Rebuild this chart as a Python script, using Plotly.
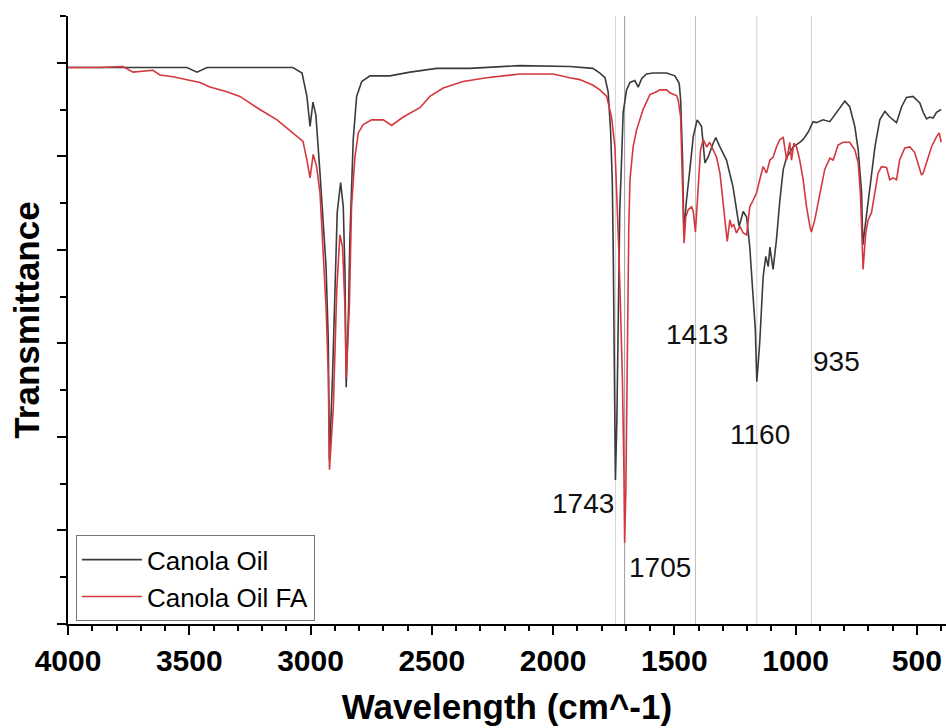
import plotly.graph_objects as go

# ---- Data ----
wn_oil = [4000, 3786, 3510, 3468, 3427, 3073, 3035, 3015, 3002, 2990, 2978, 2961, 2948, 2936, 2927,
          2922, 2909, 2899, 2890, 2876, 2865, 2858, 2853, 2843, 2838, 2824, 2810, 2789, 2755, 2673,
          2590, 2480, 2343, 2137, 1931, 1836, 1807, 1786, 1773, 1763, 1756, 1752, 1747, 1743, 1737,
          1733, 1729, 1725, 1718, 1711, 1697, 1683, 1663, 1649, 1635, 1615, 1587, 1532, 1498, 1480,
          1474, 1466, 1461, 1450, 1436, 1422, 1406, 1388, 1374, 1361, 1340, 1329, 1312, 1285, 1258,
          1244, 1233, 1216, 1202, 1189, 1175, 1166, 1160, 1148, 1134, 1123, 1113, 1106, 1093, 1079,
          1065, 1051, 1037, 1010, 983, 969, 948, 928, 914, 887, 859, 831, 797, 777, 756,
          742, 728, 723, 708, 694, 673, 653, 632, 612, 584, 563, 543, 516, 488, 474,
          460, 447, 433, 419, 400]
t_oil = [59.5, 59.5, 59.5, 59.0, 59.5, 59.5, 58.9, 56.4, 53.2, 55.8, 54.4, 48.2, 42.9, 38.2, 30.4,
         17.5, 26.8, 37.5, 44.0, 47.2, 44.6, 37.5, 25.3, 33.9, 41.1, 51.8, 56.4, 58.0, 58.6, 58.6,
         59.0, 59.4, 59.4, 59.7, 59.6, 59.4, 58.9, 58.4, 56.9, 52.8, 47.5, 40.0, 28.2, 15.4, 21.8,
         30.4, 37.9, 44.3, 49.3, 54.7, 57.1, 57.9, 58.1, 57.4, 58.3, 58.8, 58.9, 58.9, 58.6, 57.8,
         56.0, 49.6, 41.9, 45.3, 48.6, 52.1, 53.9, 53.2, 49.3, 49.9, 51.4, 52.0, 51.0, 49.6, 46.7,
         44.6, 42.5, 44.1, 43.5, 40.3, 35.4, 31.4, 25.9, 30.1, 37.1, 39.3, 38.2, 40.3, 37.9, 41.1,
         45.3, 48.6, 49.9, 51.0, 51.5, 51.8, 52.6, 53.7, 53.6, 53.9, 53.7, 54.7, 55.9, 55.3, 53.2,
         50.7, 46.1, 40.5, 43.5, 46.7, 51.0, 53.9, 54.8, 54.2, 53.6, 55.3, 56.3, 56.4, 55.7, 54.7,
         54.0, 54.2, 54.1, 54.7, 55.0]

wn_fa = [4000, 3868, 3773, 3732, 3650, 3621, 3567, 3456, 3415, 3345, 3291, 3209, 3138, 3085, 3031,
         3015, 3002, 2989, 2975, 2961, 2948, 2936, 2927, 2922, 2906, 2892, 2879, 2868, 2858, 2853,
         2840, 2831, 2817, 2803, 2783, 2748, 2700, 2666, 2618, 2549, 2508, 2453, 2371, 2274, 2137,
         2000, 1931, 1890, 1835, 1807, 1779, 1759, 1745, 1736, 1729, 1723, 1714, 1708, 1705, 1700,
         1696, 1692, 1688, 1683, 1670, 1656, 1642, 1629, 1615, 1601, 1573, 1560, 1532, 1519, 1491,
         1484, 1474, 1469, 1464, 1460, 1453, 1443, 1429, 1422, 1413, 1402, 1392, 1381, 1367, 1354,
         1340, 1326, 1312, 1299, 1282, 1271, 1264, 1255, 1244, 1230, 1216, 1202, 1189, 1175, 1161,
         1148, 1134, 1120, 1106, 1093, 1079, 1065, 1051, 1037, 1024, 1017, 1007, 996, 983, 969,
         955, 941, 935, 921, 900, 880, 859, 845, 825, 804, 777, 756, 742, 733, 726,
         722, 711, 701, 687, 673, 660, 646, 625, 612, 598, 584, 571, 550, 529, 509,
         495, 481, 474, 460, 440, 419, 408, 400]
t_fa = [59.5, 59.5, 59.6, 59.0, 59.2, 58.7, 58.5, 57.9, 57.4, 56.9, 56.4, 55.0, 53.9, 52.8, 51.6,
        49.6, 47.7, 50.2, 48.9, 46.1, 39.3, 33.9, 26.8, 16.5, 23.2, 35.7, 41.6, 40.3, 33.9, 26.3,
        33.9, 44.6, 49.9, 52.5, 53.4, 53.9, 53.9, 53.3, 54.2, 55.2, 56.4, 57.3, 58.0, 58.4, 58.8,
        58.8, 58.4, 58.2, 57.6, 57.1, 56.4, 54.2, 51.0, 45.7, 40.0, 34.7, 26.1, 16.5, 8.7, 14.3,
        24.0, 34.7, 42.1, 47.5, 51.0, 52.8, 53.9, 55.0, 55.8, 56.6, 56.9, 57.1, 57.1, 56.8, 56.5,
        56.0, 54.2, 49.6, 44.3, 40.7, 43.5, 44.3, 44.6, 44.1, 41.9, 46.1, 50.7, 51.8, 51.0, 51.5,
        50.7, 49.9, 48.2, 45.3, 40.9, 43.2, 42.5, 42.7, 41.8, 42.5, 41.8, 41.6, 44.6, 45.3, 46.1,
        47.5, 48.9, 48.2, 49.6, 49.9, 51.0, 51.8, 52.0, 49.6, 51.5, 49.6, 51.4, 51.0, 49.6, 47.5,
        44.6, 42.5, 41.9, 43.2, 46.1, 48.6, 49.8, 49.6, 51.2, 51.5, 51.5, 50.7, 49.3, 46.1, 41.1,
        37.9, 41.8, 43.2, 44.0, 46.1, 48.2, 48.9, 48.8, 47.5, 47.7, 47.5, 49.6, 50.9, 51.0, 50.4,
        49.3, 48.0, 48.2, 49.3, 51.0, 52.1, 52.5, 51.5]

peak_positions = [1743, 1705, 1413, 1160, 935]
peak_line_colors = ["#d4d4d4", "#9a9a9a", "#bdbdbd", "#d0d0d0", "#d0d0d0"]
peak_labels = ["1743", "1705", "1413", "1160", "935"]
label_x = [1877, 1560, 1407, 1148, 830]
label_y = [12.9, 6.0, 30.9, 20.3, 28.1]

x_ticks = [4000, 3500, 3000, 2500, 2000, 1500, 1000, 500]

FONT = "Liberation Sans, Arial, Helvetica, sans-serif"

fig = go.Figure()
fig.add_trace(go.Scatter(x=wn_oil, y=t_oil, mode="lines", name="Canola Oil",
                         line=dict(color="#3b3b3b", width=1.6)))
fig.add_trace(go.Scatter(x=wn_fa, y=t_fa, mode="lines", name="Canola Oil FA",
                         line=dict(color="#d3383d", width=1.6)))

for p, c in zip(peak_positions, peak_line_colors):
    fig.add_shape(type="line", xref="x", yref="paper", x0=p, x1=p, y0=0, y1=1,
                  line=dict(color=c, width=1), layer="below")

for lab, lx, ly in zip(peak_labels, label_x, label_y):
    fig.add_annotation(x=lx, y=ly, text=lab, showarrow=False, xref="x", yref="y",
                       font=dict(family=FONT, size=28, color="#111111"))

fig.update_layout(
    width=946, height=728,
    margin=dict(l=68, r=0, t=16, b=104),
    paper_bgcolor="white", plot_bgcolor="white",
    font=dict(family=FONT, color="black"),
    showlegend=True,
    legend=dict(x=0.009, y=0.146, xanchor="left", yanchor="top",
                bordercolor="#777777", borderwidth=1, bgcolor="white",
                font=dict(family=FONT, size=26, color="black"),
                tracegroupgap=0, itemwidth=60),
)

fig.update_xaxes(
    range=[4000, 380], tickvals=x_ticks, ticktext=[str(v) for v in x_ticks],
    ticks="outside", ticklen=9, tickwidth=2, tickcolor="black",
    showline=True, linecolor="black", linewidth=2, showgrid=False, zeroline=False,
    tickfont=dict(family=FONT, size=30, color="black", weight="bold"),
    minor=dict(dtick=100, tick0=0, ticks="outside", ticklen=5, tickwidth=1.5, tickcolor="black"),
    title=dict(text="Wavelength (cm^-1)", standoff=18,
               font=dict(family=FONT, size=35, color="black", weight="bold")),
)
fig.update_yaxes(
    range=[0, 65], dtick=10, tick0=0, showticklabels=False,
    ticks="outside", ticklen=9, tickwidth=2, tickcolor="black",
    showline=True, linecolor="black", linewidth=2, showgrid=False, zeroline=False,
    minor=dict(dtick=5, tick0=0, ticks="outside", ticklen=6, tickwidth=1.5, tickcolor="black"),
    title=dict(text="Transmittance", standoff=7,
               font=dict(family=FONT, size=35, color="black", weight="bold")),
)

fig.write_html("out.html", config={"displayModeBar": False},
               post_script="document.body.style.margin='0';document.body.style.overflow='hidden';")
